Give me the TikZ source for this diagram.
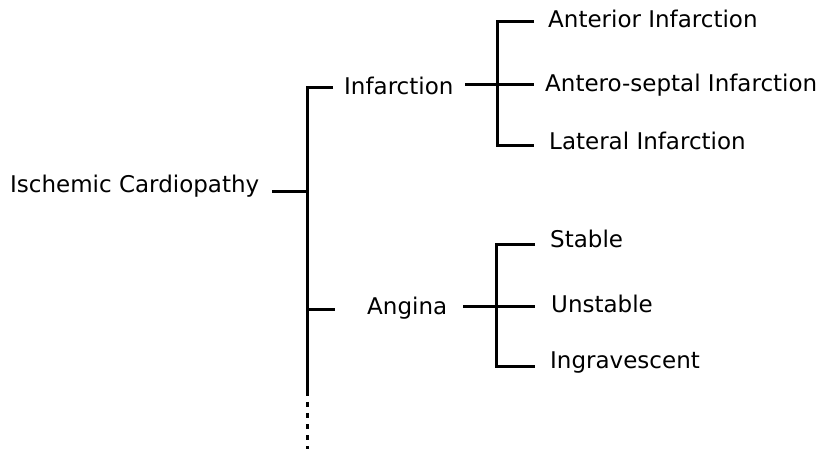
\documentclass[tikz,border=0pt]{standalone}
\usepackage{fontspec}
\setmainfont{DejaVu Sans}
\begin{document}
\begin{tikzpicture}[x=1pt,y=-1pt,
  lbl/.style={anchor=base west,inner sep=0pt,font=\fontsize{23}{27}\selectfont},
  ln/.style={line width=3pt,line cap=butt},
  dots/.style={line width=3pt,dash pattern=on 5pt off 6pt}]
\useasboundingbox (0,0) rectangle (823,449);
% texts
\node[lbl] (root) at (10,193) {Ischemic Cardiopathy};
\node[lbl] (inf) at (344,95) {Infarction};
\node[lbl] (ang) at (367,315) {Angina};
\node[lbl] (ant) at (548,28) {Anterior Infarction};
\node[lbl] (sep) at (545,92) {Antero-septal Infarction};
\node[lbl] (lat) at (549,150) {Lateral Infarction};
\node[lbl] (sta) at (550,248) {Stable};
\node[lbl] (uns) at (551,313) {Unstable};
\node[lbl] (ing) at (550,369) {Ingravescent};
% joints
\coordinate (rs) at (272,192);
\coordinate (mtop) at (307,88);
\coordinate (mmid) at (307,192);
\coordinate (mang) at (307,310);
\coordinate (mbot) at (307,396);
\coordinate (mdot) at (307,402);
\coordinate (mend) at (307,449);
\coordinate (ie) at (333,88);
\coordinate (ae) at (335,310);
\coordinate (is) at (465,85);
\coordinate (bi1) at (497,22);
\coordinate (bi2) at (497,85);
\coordinate (bi3) at (497,146);
\coordinate (ie1) at (534,22);
\coordinate (ie2) at (534,85);
\coordinate (ie3) at (534,146);
\coordinate (as) at (463,307);
\coordinate (ba1) at (496,245);
\coordinate (ba2) at (496,307);
\coordinate (ba3) at (496,367);
\coordinate (ae1) at (535,245);
\coordinate (ae2) at (535,307);
\coordinate (ae3) at (535,367);
% connectors
\draw[ln] (rs) -- (mmid);
\draw[ln] (ie) -- (mtop) -- (mbot);
\draw[ln] (mang) -- (ae);
\draw[dots] (mdot) -- (mend);
\draw[ln] (ie1) -- (bi1) -- (bi3) -- (ie3);
\draw[ln] (is) -- (ie2);
\draw[ln] (ae1) -- (ba1) -- (ba3) -- (ae3);
\draw[ln] (as) -- (ae2);
\end{tikzpicture}
\end{document}
